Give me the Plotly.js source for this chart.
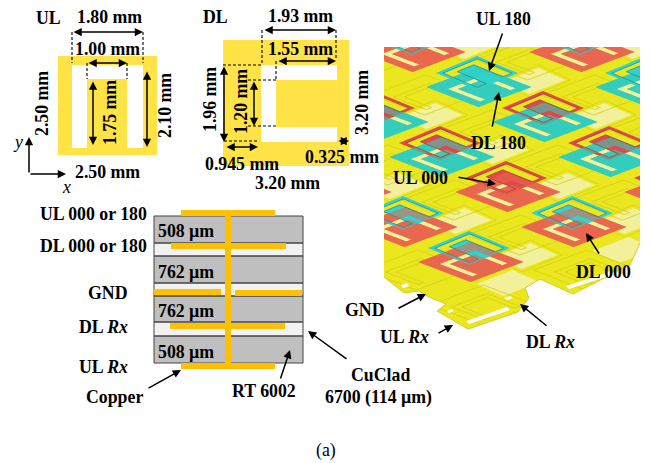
<!DOCTYPE html>
<html>
<head>
<meta charset="utf-8">
<script src="https://cdn.plot.ly/plotly-3.0.1.min.js"></script>
<style>html, body { margin: 0; padding: 0; background: #fff; }</style>
</head>
<body>
<div id="chart" style="width:651px;height:463px"></div>
<script>
const YELLOW = '#ffe347', ORANGE = '#ffc000', GREY = '#bfbfbf', PALE = '#f2f2f2'
const RED = '#e8684f', TEAL = '#33cdbd', RED_UL = '#e0484a', TEAL_UL = '#2dd4d0'
const GROUND = '#ebe71f', GROUND_PALE = '#f3f09c', GROUND_LINE = '#d2ce1a'

// mask panels, [x0, x1, y0, y1]
const ulOuter = [58, 157, 56, 155]
const ulSlot = [[72, 65], [143, 65], [143, 148], [127, 148], [127, 79], [87, 79], [87, 148], [72, 148]]
const dlOuter = [223, 349, 40, 166]
const dlSlot = [[261, 65], [337, 65], [337, 80], [276, 80], [276, 127], [337, 127], [337, 142], [261, 142]]

// layer stack
const stackGrey = [[216, 243], [256, 283], [296, 322], [336, 363]]
const stackPale = [[243, 256], [283, 296], [322, 336]]
const stackCopper = [[181, 275, 210, 216], [171, 286, 243, 249], [154, 221, 289, 295], [235, 302, 290, 296],
  [170, 285, 323, 329], [181, 275, 363, 369], [225, 231, 210, 369]]

// unit cells of the perspective view: lattice index and colour of each layer
const cellI = [-1, 1, 2, 0, 1, 2, 0, -1, 1, 3, 2, 1, 0, -1]
const cellJ = [0, -1, -1, 0, 0, 0, 1, 1, 1, 0, 1, 2, 2, 2]
const cellDl = ['r', 'r', 't', 't', 't', 't', 't', 't', 'r', 'r', 'r', 'r', 'r', 'r']
const cellUl = ['t', 't', 't', 't', 'r', 'r', 'r', 'r', 'r', 'r', 't', 't', 't', 't']
const tileI = [-2, -1, 0, 1, 2, 3, -2, -1, 0, 1, 2, 3, -1, 0, 1, 2, -1, 0, 1]
const tileJ = [0, 0, 0, 0, 0, 0, -1, -1, -1, -1, -1, -1, 1, 1, 1, 1, 2, 2, 2]
const rxI = [-2, -1, 0, 1, 2, 3, -2, -1, 0, 1, 2, -1, 0, 1, 2, -1, 0, 1, 2, 0, 1]
const rxJ = [0, 0, 0, 0, 0, 0, 1, 1, 1, 1, 1, -1, -1, -1, -1, 2, 2, 2, 2, 3, 3]
const extraTiles = [[508, 283], [624, 250]]
const outline = [[384, 47], [640, 47], [640, 243], [630, 265], [573, 294], [540, 279], [525, 288], [529, 298],
  [518, 312], [468, 329], [437, 311], [446, 304], [429, 297], [419, 291], [404, 293], [384, 277]]
const outsideOutline = [[640, 243], [630, 265], [573, 294], [540, 279], [525, 288], [529, 298],
  [518, 312], [468, 329], [437, 311], [446, 304], [429, 297], [419, 291], [404, 293], [384, 277], [384, 340], [640, 340]]
const rxSlots = [
  [[466, 321], [507, 307], [510, 310], [469, 324]],
  [[566, 286], [612, 271], [615, 274], [569, 289]],
  [[401, 285], [407, 283], [409, 286], [403, 288]],
  [[447, 311], [452, 309], [454, 311], [449, 313]],
  [[504, 298], [510, 296], [513, 298], [507, 300]]
]

// labels: text, x, y
const boldLabels = [
  ['UL', 48, 18], ['1.80 mm', 109, 17], ['1.00 mm', 107, 49], ['2.50 mm', 107, 172],
  ['DL', 215, 17], ['1.93 mm', 300, 16], ['1.55 mm', 300, 49], ['0.945 mm', 242, 164],
  ['0.325 mm', 342, 157], ['3.20 mm', 287, 183],
  ['UL 000 or 180', 93, 214], ['DL 000 or 180', 93, 246], ['GND', 108, 293],
  ['DL <i>Rx</i>', 103, 327], ['UL <i>Rx</i>', 103, 367], ['Copper', 114, 397], ['RT 6002', 264, 391],
  ['CuClad', 380, 375], ['6700 (114 µm)', 378, 397],
  ['508 µm', 186, 231], ['762 µm', 186, 272], ['762 µm', 186, 311], ['508 µm', 186, 352],
  ['UL 180', 503, 19], ['DL 180', 498, 143], ['UL 000', 420, 178], ['DL 000', 603, 272],
  ['GND', 365, 310], ['UL <i>Rx</i>', 404, 337], ['DL <i>Rx</i>', 550, 342]
]
const sideLabels = [
  ['2.50 mm', 42, 104], ['1.75 mm', 110, 113], ['2.10 mm', 165, 106],
  ['1.96 mm', 210, 100], ['1.20 mm', 241, 102], ['3.20 mm', 362, 103]
]
const plainLabels = [['<i>y</i>', 18, 142], ['<i>x</i>', 66, 187], ['(a)', 326, 450]]

// arrows: tail x, tail y, head x, head y
const doubleArrows = [
  [72, 32, 143, 32], [87, 63, 127, 63], [93, 80, 93, 145], [147, 70, 147, 147],
  [263, 30, 336, 30], [277, 61, 336, 61], [224, 65, 224, 142], [254, 80, 254, 126],
  [225, 147, 258, 147], [337, 141, 349, 141]
]
const singleArrows = [
  [29, 174, 29, 137], [29, 174, 66, 174],
  [147, 389, 181, 370], [280, 380, 290, 350], [348, 360, 308, 331],
  [503, 32, 489, 71], [492, 128, 499, 92], [457, 177, 496, 184], [600, 255, 586, 233],
  [397, 309, 426, 294], [437, 334, 453, 325], [548, 327, 520, 304]
]
const dashes = [
  [72, 32, 72, 63], [143, 32, 143, 63], [87, 63, 87, 79], [127, 63, 127, 79],
  [262, 30, 262, 65], [336, 30, 336, 60], [276, 61, 276, 80],
  [223, 65, 261, 65], [224, 141, 258, 141], [248, 80, 276, 80], [248, 126, 276, 126]
]

const traces = []

function addPoly(pts, color, extra) {
  traces.push(Object.assign({
    type: 'scatter', mode: 'lines', x: pts.map(p => p && p[0]), y: pts.map(p => p && p[1]),
    fill: 'toself', fillcolor: color, line: { width: 0, color: color }, hoverinfo: 'skip'
  }, extra))
}
function addLine(pts, color, width, dash, extra) {
  traces.push(Object.assign({
    type: 'scatter', mode: 'lines', x: pts.map(p => p && p[0]), y: pts.map(p => p && p[1]),
    line: { width: width, color: color, dash: dash || 'solid' }, hoverinfo: 'skip'
  }, extra))
}
function box(x0, x1, y0, y1) {
  return [[x0, y0], [x1, y0], [x1, y1], [x0, y1], [x0, y0]]
}

// left hand panels
addPoly(box(ulOuter[0], ulOuter[1], ulOuter[2], ulOuter[3]), YELLOW)
addPoly(ulSlot.concat([ulSlot[0]]), '#ffffff')
addPoly(box(dlOuter[0], dlOuter[1], dlOuter[2], dlOuter[3]), YELLOW)
addPoly(dlSlot.concat([dlSlot[0]]), '#ffffff')
dashes.forEach(d => addLine([[d[0], d[1]], [d[2], d[3]]], '#000', 1.1, '3px,2px'))

stackPale.forEach(s => addPoly(box(154, 303, s[0], s[1]), PALE))
stackGrey.forEach(s => addPoly(box(154, 303, s[0], s[1]), GREY, { line: { width: 1, color: '#444' } }))
stackPale.forEach(s => addLine(box(154, 303, s[0], s[1]), '#444', 1))
stackCopper.forEach(c => addPoly(box(c[0], c[1], c[2], c[3]), ORANGE))

// perspective view, kept in its own subplot so it gets clipped at the picture edge
const iso = { xaxis: 'x2', yaxis: 'y2' }
const A = [66, 35], B = [-37, 70], O = [479, 87]
const center = (i, j) => [O[0] + i * A[0] + j * B[0], O[1] + i * A[1] + j * B[1]]
function mapper(c, e1, e2) {
  return p => p && [c[0] + (p[0] - 0.5) * e1[0] + (p[1] - 0.5) * e2[0], c[1] + (p[0] - 0.5) * e1[1] + (p[1] - 0.5) * e2[1]]
}
const square = [[0, 0], [1, 0], [1, 1], [0, 1], [0, 0]]
const dlHole = [[0.25, 0.15], [0.88, 0.15], [0.88, 0.25], [0.35, 0.25], [0.35, 0.72], [0.88, 0.72], [0.88, 0.82], [0.25, 0.82], [0.25, 0.15]]
const ulHole = [[0.09, 0.08], [0.93, 0.08], [0.93, 0.3], [0.22, 0.3], [0.22, 0.7], [0.93, 0.7], [0.93, 0.92], [0.09, 0.92], [0.09, 0.08]]
const DL_E1 = [52, 20], DL_E2 = [53, -20], UL_E1 = [41, 17], UL_E2 = [41, -17]

addPoly(outline.concat([outline[0]]), GROUND, iso)
tileI.forEach((g, k) => {
  const c = center(g, tileJ[k])
  addPoly(square.map(mapper([c[0] + 55, c[1] - 6], [27, 12], [36, -14])), GROUND_PALE, iso)
  addLine(square.map(mapper([c[0] + 55, c[1] - 6], [32, 15], [41, -17])), GROUND_LINE, 0.7, null, iso)
})
extraTiles.forEach(c => addPoly(square.map(mapper(c, [27, 12], [36, -14])), GROUND_PALE, iso))
rxI.forEach((g, k) => {
  const c = center(g, rxJ[k])
  const d = mapper([c[0] + 49, c[1] - 27], DL_E1, DL_E2)
  addLine(square.map(d), GROUND_LINE, 0.8, null, iso)
  addLine(dlHole.map(d), GROUND_LINE, 0.8, null, iso)
})
addPoly(outsideOutline.concat([outsideOutline[0]]), '#ffffff', iso)
addLine(outsideOutline.slice(0, 14), GROUND_LINE, 1, null, iso)
rxSlots.forEach(s => addPoly(s.concat([s[0]]), '#ffffff', iso))

// each cell: downlink, uplink on top, then downlink once more see-through so only the overlap blends
function dlPath(k) {
  const m = mapper(center(cellI[k], cellJ[k]), DL_E1, DL_E2)
  return square.map(m).concat([null], dlHole.slice().reverse().map(m))
}
cellI.forEach((ci, k) => {
  const m = mapper(center(ci, cellJ[k]), DL_E1, DL_E2)
  addPoly(dlHole.map(m), GROUND_PALE, iso)
  addPoly(dlPath(k), cellDl[k] == 'r' ? RED : TEAL, iso)
})
cellI.forEach((ci, k) => {
  const c = center(ci, cellJ[k])
  const m = mapper([c[0] - 2, c[1] - 14], UL_E1, UL_E2)
  const col = cellUl[k] == 'r' ? RED_UL : TEAL_UL
  addPoly(square.map(m).concat([null], ulHole.slice().reverse().map(m)), col, iso)
})
cellI.forEach((ci, k) => {
  addPoly(dlPath(k), cellDl[k] == 'r' ? RED : TEAL, Object.assign({ opacity: 0.6 }, iso))
})
cellI.forEach((ci, k) => {
  const c = center(ci, cellJ[k])
  const m = mapper([c[0] - 2, c[1] - 14], UL_E1, UL_E2)
  addLine(ulHole.map(m), cellUl[k] == 'r' ? '#a8403c' : '#2a8f96', 0.8, null, iso)
})

const textFont = { family: 'Liberation Serif', size: 17.8, color: '#000', weight: 700 }
const annotations = []
boldLabels.forEach(l => annotations.push({ text: l[0], x: l[1], y: l[2], showarrow: false, font: textFont, xanchor: 'center', yanchor: 'middle' }))
sideLabels.forEach(l => annotations.push({ text: l[0], x: l[1], y: l[2], showarrow: false, font: textFont, textangle: -90, xanchor: 'center', yanchor: 'middle' }))
plainLabels.forEach(l => annotations.push({ text: l[0], x: l[1], y: l[2], showarrow: false, font: { family: 'Liberation Serif', size: 17.8, color: '#000' }, xanchor: 'center', yanchor: 'middle' }))
function arrow(a, both) {
  return {
    text: '', x: a[2], y: a[3], ax: a[0], ay: a[1], axref: 'x', ayref: 'y', showarrow: true,
    arrowhead: 2, arrowsize: 1.1, arrowwidth: 1.5, arrowcolor: '#000', standoff: 0, startstandoff: 0,
    arrowside: both ? 'end+start' : 'end', startarrowhead: 2, startarrowsize: 1.1
  }
}
doubleArrows.forEach(a => annotations.push(arrow(a, true)))
singleArrows.forEach(a => annotations.push(arrow(a, false)))

const hidden = { visible: false, fixedrange: true }
const layout = {
  width: 651, height: 463, margin: { l: 0, r: 0, t: 0, b: 0 },
  paper_bgcolor: '#fff', plot_bgcolor: 'rgba(0,0,0,0)', showlegend: false,
  xaxis: Object.assign({ range: [0, 651], domain: [0, 1] }, hidden),
  yaxis: Object.assign({ range: [463, 0], domain: [0, 1] }, hidden),
  xaxis2: Object.assign({ range: [384, 640], domain: [384 / 651, 640 / 651], anchor: 'y2' }, hidden),
  yaxis2: Object.assign({ range: [340, 47], domain: [1 - 340 / 463, 1 - 47 / 463], anchor: 'x2' }, hidden),
  annotations: annotations
}
Plotly.newPlot('chart', traces, layout, { displayModeBar: false, staticPlot: true })
</script>
</body>
</html>
